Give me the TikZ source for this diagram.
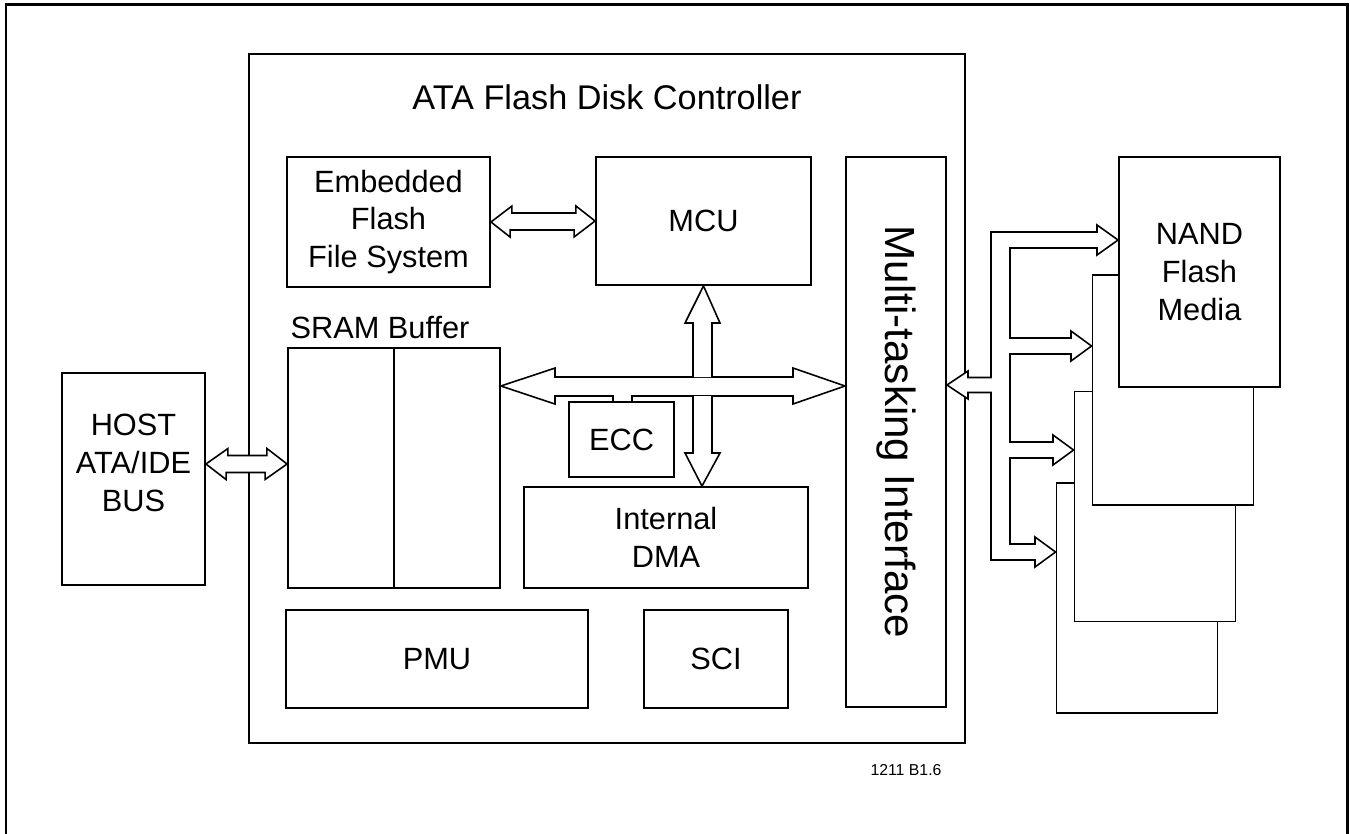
\documentclass[tikz,border=0pt]{standalone}
\usepackage{fontspec}
\setmainfont{Liberation Sans}
\begin{document}
\begin{tikzpicture}[x=0.02cm,y=-0.02cm,
  blk/.style={draw,line width=1.1pt,fill=white,inner sep=0pt,align=center,
    font=\fontsize{17.5}{21.5}\selectfont},
  lbl/.style={align=center,font=\fontsize{17.5}{21.5}\selectfont},
  bus/.style={draw,line width=0.9pt,fill=white,line join=miter}]
\useasboundingbox (0,0) rectangle (1350,833);
\draw[line width=1.7pt] (6,850) -- (6,4) -- (1347,4) -- (1347,850);
% controller
\node[blk,minimum width=14.32cm,minimum height=13.78cm] (ctrl) at (607,398.5) {};
\node[font=\fontsize{19.5}{23}\selectfont] (title) at (607,97) {ATA Flash Disk Controller};
\node[blk,minimum width=4.06cm,minimum height=2.6cm] (efs) at (388.5,222) {Embedded\\Flash\\File System};
\node[blk,minimum width=4.3cm,minimum height=2.56cm] (mcu) at (703.5,221) {MCU};
\node[blk,minimum width=4.24cm,minimum height=4.8cm] (sram) at (394,468) {};
\node[lbl] (sramlbl) at (380,328) {SRAM Buffer};
\draw[line width=1.1pt] (sram.north) -- (sram.south);
\node[blk,minimum width=2.1cm,minimum height=1.5cm] (ecc) at (621.5,439.5) {ECC};
\node[blk,minimum width=5.68cm,minimum height=2.02cm] (dma) at (666,537.5) {Internal\\DMA};
\node[blk,minimum width=6.04cm,minimum height=1.96cm] (pmu) at (437,659) {PMU};
\node[blk,minimum width=2.88cm,minimum height=1.96cm] (sci) at (716,659) {SCI};
\node[blk,minimum width=2cm,minimum height=11cm] (mti) at (896,432) {};
\node[rotate=-90,font=\fontsize{24}{28}\selectfont] (mtilbl) at (mti.center) {Multi-tasking Interface};
% host
\node[blk,minimum width=2.86cm,minimum height=4.24cm] (host) at (133.5,479) {};
\node[lbl] (hostlbl) at (133.5,463) {HOST\\ATA/IDE\\BUS};
% flash media stack
\node[blk,minimum width=3.22cm,minimum height=4.6cm] (nand4) at (1137,598) {};
\node[blk,minimum width=3.22cm,minimum height=4.6cm] (nand3) at (1155,506.5) {};
\node[blk,minimum width=3.22cm,minimum height=4.6cm] (nand2) at (1173,390) {};
\node[blk,minimum width=3.22cm,minimum height=4.6cm] (nand1) at (1199.5,272) {NAND\\Flash\\Media};
\node[font=\fontsize{9}{11}\selectfont] (fig) at (906,770) {1211 B1.6};
% buses
\draw[bus] (host.east |- 0,464) -- ++(22,-15.5) -- ++(0,7) -- ++(39,0) -- ++(0,-7)
  -- (sram.west |- 0,464) -- ++(-22,15.5) -- ++(0,-7) -- ++(-39,0) -- ++(0,7) -- cycle;
\draw[bus] (efs.east) -- ++(21,-16) -- ++(0,7) -- ++(64,0) -- ++(0,-7)
  -- (mcu.west) -- ++(-21,16) -- ++(0,-7) -- ++(-64,0) -- ++(0,7) -- cycle;
\draw[bus] (sram.east |- 0,386) -- (555,368) -- (555,377) -- (793,377) -- (793,368)
  -- (mti.west |- 0,386) -- (793,404) -- (793,396) -- (632,396) -- (632,402)
  -- (613,402) -- (613,396) -- (555,396) -- (555,404) -- cycle;
\draw[bus] (693,377) -- (693,323) -- (685,323) -- (mcu.south) -- (720,323) -- (712,323) -- (712,377);
\draw[bus] (693,396) -- (693,453) -- (685,453) -- (dma.north -| 702,0) -- (720,453) -- (712,453) -- (712,396);
\draw[bus] (mti.east |- 0,385) -- (968,371) -- (968,377.5) -- (991,377.5) -- (991,232)
  -- (1097,232) -- (1097,225) -- (nand1.west |- 0,240) -- (1097,255) -- (1097,248)
  -- (1010,248) -- (1010,338) -- (1071,338) -- (1071,331) -- (nand2.west |- 0,346)
  -- (1071,361) -- (1071,354) -- (1010,354) -- (1010,442) -- (1053,442) -- (1053,435)
  -- (nand3.west |- 0,450) -- (1053,465) -- (1053,458) -- (1010,458) -- (1010,544)
  -- (1035,544) -- (1035,537) -- (nand4.west |- 0,552) -- (1035,567) -- (1035,560)
  -- (991,560) -- (991,392.5) -- (968,392.5) -- (968,399) -- cycle;
\end{tikzpicture}
\end{document}
